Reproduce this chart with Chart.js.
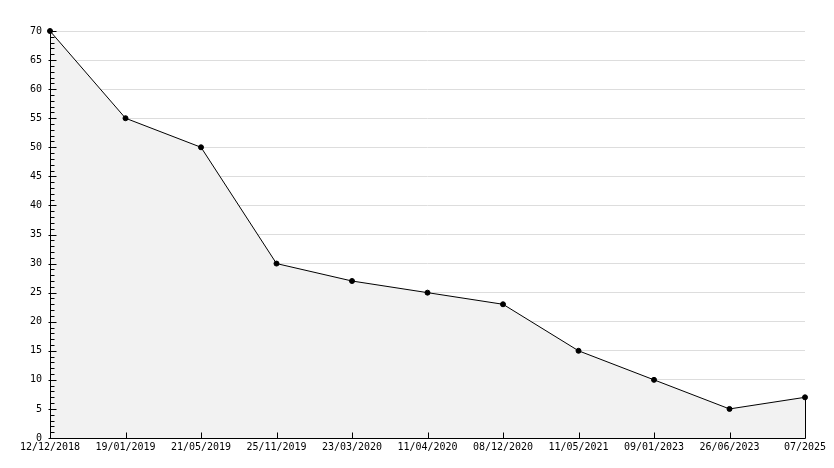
<!DOCTYPE html>
<html><head><meta charset="utf-8">
<script src="https://cdn.jsdelivr.net/npm/chart.js@4/dist/chart.umd.min.js"></script>
<style>html,body{margin:0;padding:0;background:#fff}#wrap{width:834px;height:468px}</style>
</head><body><div id="wrap"><canvas id="c"></canvas></div>
<script>
const categories = ["12/12/2018","19/01/2019","21/05/2019","25/11/2019","23/03/2020","11/04/2020","08/12/2020","11/05/2021","09/01/2023","26/06/2023","07/2025"];
const values = [70,55,50,30,27,25,23,15,10,5,7];
const yTickLabels = [0,5,10,15,20,25,30,35,40,45,50,55,60,65,70];

const FONT = {family:"'DejaVu Sans Mono', monospace", size:10};

const axisPlugin = {
  id:'axisPlugin',
  afterDatasetsDraw(chart){
    const {ctx, chartArea:a, scales:{x,y}} = chart;
    ctx.save();
    ctx.strokeStyle='#000'; ctx.lineWidth=1;
    const lx = Math.round(x.getPixelForValue(values.length-1))+0.5;
    ctx.beginPath(); ctx.moveTo(lx, y.getPixelForValue(values[values.length-1])); ctx.lineTo(lx, y.getPixelForValue(0)); ctx.stroke();
    const ax = Math.round(a.left)+0.5, ay = Math.round(y.getPixelForValue(0))+0.5;
    ctx.beginPath(); ctx.moveTo(ax, y.getPixelForValue(70)); ctx.lineTo(ax, ay); ctx.lineTo(lx, ay); ctx.stroke();
    for(let v=0; v<=70; v++){
      const py = Math.round(y.getPixelForValue(v))+0.5;
      const major = v%5===0;
      ctx.beginPath(); ctx.moveTo(major?ax-2:ax, py); ctx.lineTo(ax+(major?6:4), py); ctx.stroke();
    }
    for(let i=0;i<categories.length;i++){
      const px = Math.round(x.getPixelForValue(i))+0.5;
      ctx.beginPath(); ctx.moveTo(px, ay); ctx.lineTo(px, ay-6); ctx.stroke();
    }
    ctx.restore();
  }
};

new Chart(document.getElementById('c'), {
  type:'line',
  data:{labels:categories, datasets:[{
    data:values, borderColor:'#000', borderWidth:1, backgroundColor:'#f2f2f2',
    fill:'origin', tension:0, clip:false, pointRadius:2.5, pointBackgroundColor:'#000', pointBorderColor:'#000', pointBorderWidth:1
  }]},
  options:{
    responsive:true, maintainAspectRatio:false, animation:false,
    layout:{padding:{left:0,right:29,top:31,bottom:0}},
    plugins:{legend:{display:false}, tooltip:{enabled:false}},
    scales:{
      x:{type:'category', offset:false,
        grid:{display:false, drawTicks:false}, border:{display:false},
        ticks:{font:FONT, color:'#000', maxRotation:0, autoSkip:false, padding:3},
        afterFit(s){ s.height = 30; }
      },
      y:{min:0, max:70,
        afterBuildTicks(s){ s.ticks = yTickLabels.map(v=>({value:v})); },
        grid:{color(c){ return c.tick && c.tick.value===0 ? 'rgba(0,0,0,0)' : '#dddddd'; }, drawTicks:false},
        border:{display:false},
        ticks:{font:FONT, color:'#000', padding:8},
        afterFit(s){ s.width = 50; }
      }
    }
  },
  plugins:[axisPlugin]
});
</script>
</body></html>
